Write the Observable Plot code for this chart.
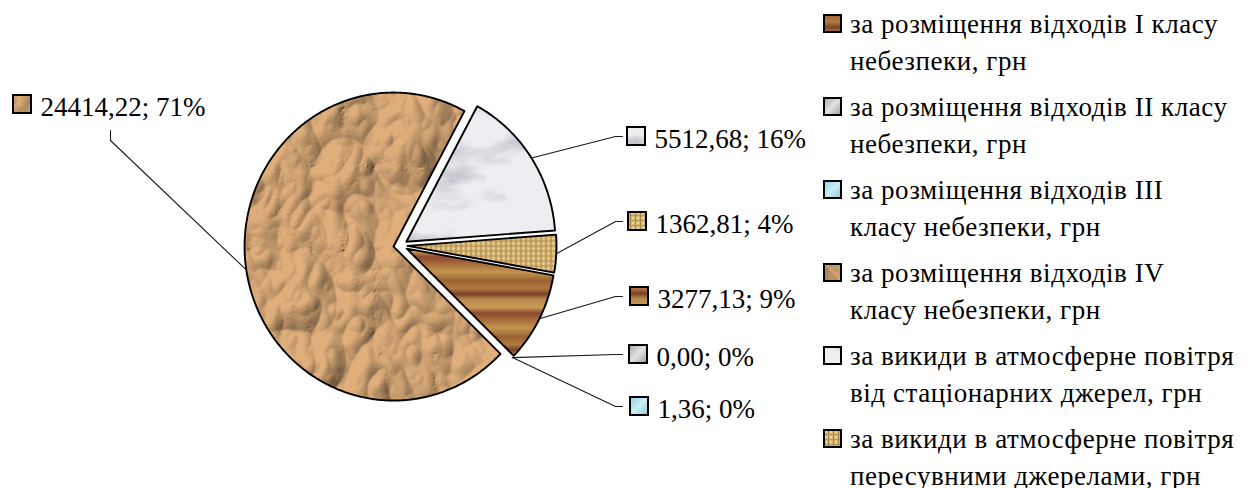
<!DOCTYPE html>
<html>
<head>
<meta charset="utf-8">
<script src="https://cdn.jsdelivr.net/npm/d3@7"></script>
<script src="https://cdn.jsdelivr.net/npm/@observablehq/plot@0.6"></script>
<style>
  html, body { margin: 0; padding: 0; background: #fff; }
  #wrap { position: relative; width: 1248px; height: 488px; overflow: hidden;
          font-family: "Liberation Serif", "Times New Roman", serif; }
  #chart { position: absolute; left: 0; top: 0; }
  #legend { position: absolute; left: 823px; top: 6.4px; }
  .item { display: flex; align-items: flex-start; margin-bottom: 9px; }
  .key { flex: none; width: 19px; height: 19px; margin-top: 7.6px; margin-right: 8px; }
  .txt { width: 386px; font-size: 27px; line-height: 37px; letter-spacing: 0.55px; color: #000;
         font-family: "Liberation Serif", "Times New Roman", serif; }
</style>
</head>
<body>
<svg width="0" height="0" style="position:absolute">
  <defs>
    <filter id="fCrumple" x="0" y="0" width="1" height="1" color-interpolation-filters="sRGB">
      <feTurbulence type="turbulence" baseFrequency="0.016 0.012" numOctaves="3" seed="21" result="n"/>
      <feColorMatrix in="n" type="matrix" values="0 0 0 0 0  0 0 0 0 0  0 0 0 0 0  1 0 0 0 0" result="h"/>
      <feDiffuseLighting in="h" surfaceScale="6.5" diffuseConstant="1.12" lighting-color="#ffffff" result="l">
        <feDistantLight azimuth="225" elevation="55"/>
      </feDiffuseLighting>
      <feFlood flood-color="#dfae7b" result="c"/>
      <feBlend in="l" in2="c" mode="multiply"/>
    </filter>
    <filter id="fMarble" x="0" y="0" width="1" height="1" color-interpolation-filters="sRGB">
      <feTurbulence type="fractalNoise" baseFrequency="0.012 0.022" numOctaves="4" seed="12" result="n"/>
      <feColorMatrix in="n" type="matrix" values="0 0 0 0 0.58  0 0 0 0 0.58  0 0 0 0 0.63  -2.2 0 0 0 0.98" result="v"/>
      <feFlood flood-color="#eeeef2" result="b"/>
      <feComposite in="v" in2="b" operator="over"/>
    </filter>
    <pattern id="pTan" patternUnits="userSpaceOnUse" x="0" y="0" width="1248" height="488">
      <rect width="1248" height="488" filter="url(#fCrumple)"/>
    </pattern>
    <pattern id="pMarble" patternUnits="userSpaceOnUse" x="0" y="0" width="1248" height="488">
      <rect width="1248" height="488" filter="url(#fMarble)"/>
    </pattern>
    <pattern id="pWeave" patternUnits="userSpaceOnUse" width="5" height="5">
      <rect width="5" height="5" fill="#d7b674"/>
      <rect x="0" y="0" width="5" height="1" fill="#a8854d" opacity="0.6"/>
      <rect x="0" y="0" width="1" height="5" fill="#9f7c45" opacity="0.8"/>
      <rect x="2" y="2" width="2" height="2" fill="#e9d29c"/>
    </pattern>
    <linearGradient id="pWood" gradientUnits="userSpaceOnUse" x1="0" y1="0" x2="0" y2="56" spreadMethod="repeat">
      <stop offset="0" stop-color="#9a6334"/>
      <stop offset="0.14" stop-color="#b07a42"/>
      <stop offset="0.24" stop-color="#7a4228"/>
      <stop offset="0.34" stop-color="#b88a4a"/>
      <stop offset="0.48" stop-color="#c99b54"/>
      <stop offset="0.58" stop-color="#8c4832"/>
      <stop offset="0.7" stop-color="#a96c3c"/>
      <stop offset="0.85" stop-color="#c39450"/>
      <stop offset="1" stop-color="#9a6334"/>
    </linearGradient>
    <linearGradient id="pGray" x1="0" y1="0" x2="1" y2="1">
      <stop offset="0" stop-color="#a8a8a8"/>
      <stop offset="0.5" stop-color="#e2e2e2"/>
      <stop offset="1" stop-color="#9c9c9c"/>
    </linearGradient>
    <linearGradient id="pCyan" x1="0" y1="0" x2="1" y2="1">
      <stop offset="0" stop-color="#8fd0e2"/>
      <stop offset="0.5" stop-color="#c9eef6"/>
      <stop offset="1" stop-color="#8cc9da"/>
    </linearGradient>
  </defs>
</svg>
<div id="wrap"><div id="chart"></div><div id="legend"></div></div>
<script>
// ---- data (Excel series order) ----
const categories = [
  "за розміщення відходів І класу небезпеки, грн",
  "за розміщення відходів ІІ класу небезпеки, грн",
  "за розміщення відходів ІІІ класу небезпеки, грн",
  "за розміщення відходів IV класу небезпеки, грн",
  "за викиди в атмосферне повітря від стаціонарних джерел, грн",
  "за викиди в атмосферне повітря пересувними джерелами, грн"
];
const values = [3277.13, 0.00, 1.36, 24414.22, 5512.68, 1362.81];
const fills = ["url(#pWood)", "url(#pGray)", "url(#pCyan)", "url(#pTan)", "url(#pMarble)", "url(#pWeave)"];

// ---- layout ----
const firstSliceAngle = 100; // degrees, clockwise from 12 o'clock
const pieGeom = {cx: 400, cy: 245, rx: 149, ry: 154, explode: 7};
// label key box (left x, centre y) and leader elbow / end points
const labelLayout = [
  {kx: 630, ky: 296, elbow: [615, 296], end: [622, 296]},
  {kx: 629, ky: 354, elbow: [615, 354], end: [622, 354]},
  {kx: 630, ky: 406, elbow: [615, 406], end: [622, 406]},
  {kx: 13,  ky: 104, elbow: [110, 140], end: [110, 130]},
  {kx: 627, ky: 136, elbow: [615, 136], end: [622, 136]},
  {kx: 628, ky: 221, elbow: [615, 221], end: [622, 221]}
];

const uk = d3.formatLocale({decimal: ",", thousands: "", grouping: [3], currency: ["", ""]});
const fmt = uk.format(".2f");
const total = d3.sum(values);
const rad = Math.PI / 180;
const arcs = d3.pie().sort(null).value(d => d)
  .startAngle(firstSliceAngle * rad).endAngle(firstSliceAngle * rad + 2 * Math.PI)(values);

const slicePts = [];
const leaderPts = [];
const labels = [];
arcs.forEach((a, i) => {
  const cat = categories[i];
  const mid = (a.startAngle + a.endAngle) / 2;
  const ex = pieGeom.cx + pieGeom.explode * Math.sin(mid);
  const ey = pieGeom.cy - pieGeom.explode * Math.cos(mid);
  if (a.endAngle - a.startAngle > 0.5 * rad) {
    slicePts.push({cat, x: ex, y: ey});
    const n = Math.max(2, Math.ceil((a.endAngle - a.startAngle) / (0.5 * rad)));
    for (let k = 0; k <= n; k++) {
      const t = a.startAngle + (a.endAngle - a.startAngle) * k / n;
      slicePts.push({cat, x: ex + pieGeom.rx * Math.sin(t), y: ey - pieGeom.ry * Math.cos(t)});
    }
    slicePts.push({cat, x: ex, y: ey});
  }
  const L = labelLayout[i];
  leaderPts.push({cat, x: ex + pieGeom.rx * Math.sin(mid), y: ey - pieGeom.ry * Math.cos(mid)});
  leaderPts.push({cat, x: L.elbow[0], y: L.elbow[1]});
  leaderPts.push({cat, x: L.end[0], y: L.end[1]});
  labels.push({cat, kx: L.kx, ky: L.ky,
    text: fmt(values[i]) + "; " + Math.round(values[i] / total * 100) + "%"});
});

const FONT = '"Liberation Serif", "Times New Roman", serif';
const plot = Plot.plot({
  width: 810, height: 488, margin: 0,
  x: {domain: [0, 810], range: [0, 810], axis: null},
  y: {domain: [0, 488], range: [0, 488], axis: null},
  color: {type: "ordinal", domain: categories, range: fills},
  style: {background: "#fff", fontFamily: FONT, overflow: "visible"},
  marks: [
    Plot.line(slicePts, {x: "x", y: "y", z: "cat", fill: "cat", stroke: "#000", strokeWidth: 1.9,
      strokeLinejoin: "round", curve: "linear"}),
    Plot.line(leaderPts, {x: "x", y: "y", z: "cat", stroke: "#1a1a1a", strokeWidth: 1.1, curve: "linear"}),
    Plot.rect(labels, {x1: d => d.kx, x2: d => d.kx + 18, y1: d => d.ky - 9, y2: d => d.ky + 9,
      fill: "cat", stroke: "#000", strokeWidth: 2}),
    Plot.text(labels, {x: d => d.kx + 27, y: "ky", dy: 11, text: "text", textAnchor: "start",
      lineAnchor: "bottom", fontSize: 27, fontFamily: FONT, fill: "#000"})
  ]
});
document.getElementById("chart").appendChild(plot);

// ---- legend ----
const legend = document.getElementById("legend");
categories.forEach((c, i) => {
  const item = document.createElement("div");
  item.className = "item";
  item.innerHTML = `<svg class="key" width="19" height="19"><rect x="1" y="1" width="17" height="17" fill="${fills[i]}" stroke="#000" stroke-width="2"/></svg><div class="txt"></div>`;
  item.querySelector(".txt").textContent = c;
  legend.appendChild(item);
});
</script>
</body>
</html>
